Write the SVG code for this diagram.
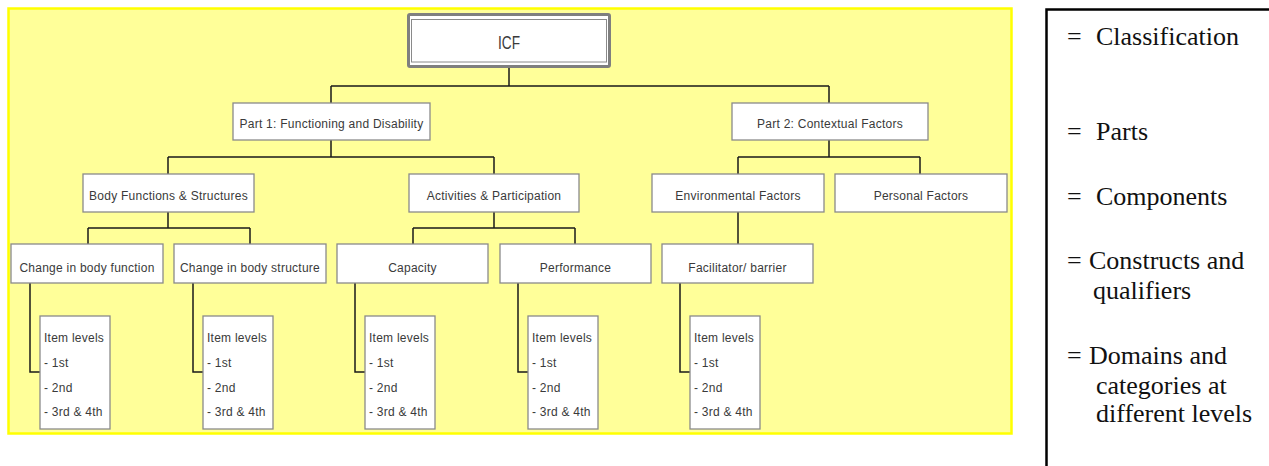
<svg xmlns="http://www.w3.org/2000/svg" width="1269" height="466" viewBox="0 0 1269 466">
<style>
.box{fill:#ffffff;stroke:#8a8a8a;stroke-width:1.3}
.t{font-family:"Liberation Sans",Arial,sans-serif;font-size:12px;fill:#3a3a3a;letter-spacing:0.25px}
.c{text-anchor:middle}
.conn{fill:none;stroke:#1a1a1a;stroke-width:1.5}
.leg{font-family:"Liberation Serif","Times New Roman",serif;font-size:26px;fill:#111}
</style>
<rect id="background" x="8.5" y="8.5" width="1003" height="425" fill="#ffff99" stroke="#ffff00" stroke-width="2.5"/>
<g id="connectors" class="conn">
<path d="M509 68V86M331 86H829M331 86V103M829 86V103"/>
<path d="M331 140V157M168 157H494M168 157V174M494 157V174"/>
<path d="M829 140V157M738 157H920M738 157V174M920 157V174"/>
<path d="M168 212V228M88 228H250M88 228V244M250 228V244"/>
<path d="M494 212V228M413 228H575M413 228V244M575 228V244"/>
<path d="M738 212V244"/>
<path d="M30 283V372H40M193 283V372H203M355 283V372H365M518 283V372H528M680 283V372H690"/>
</g>
<g id="icf">
<rect x="408.5" y="14.5" width="201" height="52" rx="1.5" fill="#ffffff" stroke="#7f7f7f" stroke-width="3"/>
<rect x="411.5" y="19.5" width="195" height="42.5" fill="none" stroke="#8a8a8a" stroke-width="1"/>
<text class="t" x="498" y="49" font-size="18" textLength="22" lengthAdjust="spacingAndGlyphs" style="font-size:18px;letter-spacing:0">ICF</text>
</g>
<g id="part1"><rect class="box" x="233" y="103" width="197" height="37"/><text class="t c" x="331.5" y="128">Part 1: Functioning and Disability</text></g>
<g id="part2"><rect class="box" x="732" y="103" width="196" height="37"/><text class="t c" x="830" y="128">Part 2: Contextual Factors</text></g>
<g id="bfs"><rect class="box" x="83" y="174" width="171" height="38"/><text class="t c" x="168.5" y="200">Body Functions &amp; Structures</text></g>
<g id="ap"><rect class="box" x="409" y="174" width="170" height="38"/><text class="t c" x="494" y="200">Activities &amp; Participation</text></g>
<g id="env"><rect class="box" x="652" y="174" width="172" height="38"/><text class="t c" x="738" y="200">Environmental Factors</text></g>
<g id="pers"><rect class="box" x="835" y="174" width="172" height="38"/><text class="t c" x="921" y="200">Personal Factors</text></g>
<g id="cbf"><rect class="box" x="11" y="244" width="152" height="39"/><text class="t c" x="87" y="272">Change in body function</text></g>
<g id="cbs"><rect class="box" x="174" y="244" width="152" height="39"/><text class="t c" x="250" y="272">Change in body structure</text></g>
<g id="cap"><rect class="box" x="337" y="244" width="151" height="39"/><text class="t c" x="412.5" y="272">Capacity</text></g>
<g id="perf"><rect class="box" x="500" y="244" width="151" height="39"/><text class="t c" x="575.5" y="272">Performance</text></g>
<g id="fac"><rect class="box" x="662" y="244" width="151" height="39"/><text class="t c" x="737.5" y="272">Facilitator/ barrier</text></g>
<g id="items1"><rect class="box" x="40" y="316" width="70" height="113"/><text class="t" x="44" y="342">Item levels</text><text class="t" x="44" y="367">- 1st</text><text class="t" x="44" y="392">- 2nd</text><text class="t" x="44" y="416">- 3rd &amp; 4th</text></g>
<g id="items2"><rect class="box" x="203" y="316" width="70" height="113"/><text class="t" x="207" y="342">Item levels</text><text class="t" x="207" y="367">- 1st</text><text class="t" x="207" y="392">- 2nd</text><text class="t" x="207" y="416">- 3rd &amp; 4th</text></g>
<g id="items3"><rect class="box" x="365" y="316" width="70" height="113"/><text class="t" x="369" y="342">Item levels</text><text class="t" x="369" y="367">- 1st</text><text class="t" x="369" y="392">- 2nd</text><text class="t" x="369" y="416">- 3rd &amp; 4th</text></g>
<g id="items4"><rect class="box" x="528" y="316" width="70" height="113"/><text class="t" x="532" y="342">Item levels</text><text class="t" x="532" y="367">- 1st</text><text class="t" x="532" y="392">- 2nd</text><text class="t" x="532" y="416">- 3rd &amp; 4th</text></g>
<g id="items5"><rect class="box" x="690" y="316" width="70" height="113"/><text class="t" x="694" y="342">Item levels</text><text class="t" x="694" y="367">- 1st</text><text class="t" x="694" y="392">- 2nd</text><text class="t" x="694" y="416">- 3rd &amp; 4th</text></g>
<g id="legend">
<rect x="1046.5" y="9.5" width="240" height="470" fill="#ffffff" stroke="#000000" stroke-width="2.5"/>
<text class="leg" x="1067" y="45">=<tspan x="1096">Classification</tspan></text>
<text class="leg" x="1067" y="140">=<tspan x="1096">Parts</tspan></text>
<text class="leg" x="1067" y="205">=<tspan x="1096">Components</tspan></text>
<text class="leg" x="1067" y="269">=<tspan x="1089">Constructs and</tspan></text>
<text class="leg" x="1093" y="299">qualifiers</text>
<text class="leg" x="1067" y="364">=<tspan x="1089">Domains and</tspan></text>
<text class="leg" x="1096" y="394">categories at</text>
<text class="leg" x="1096" y="422">different levels</text>
</g>
</svg>
